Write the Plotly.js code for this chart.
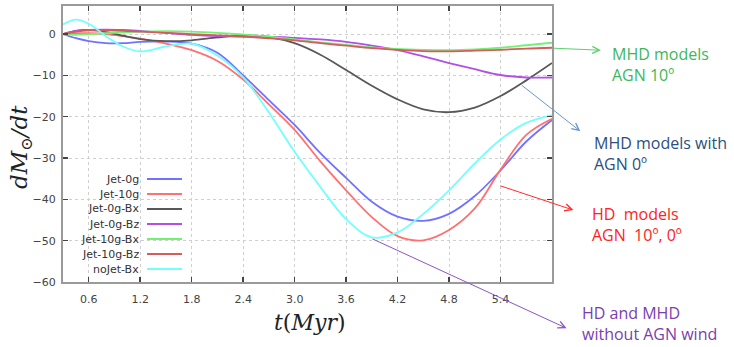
<!DOCTYPE html>
<html>
<head>
<meta charset="utf-8">
<script src="https://cdn.plot.ly/plotly-3.0.1.min.js"></script>
<style>
  html, body { margin: 0; padding: 0; background: #fff; }
  #graph { width: 734px; height: 347px; }
</style>
</head>
<body>
<div id="graph"></div>
<script>
// time in Myr
const time = [0.3, 0.45, 0.6, 0.8, 1.0, 1.2, 1.5, 1.8, 2.1, 2.4, 2.7, 3.0, 3.3, 3.6, 3.9, 4.2, 4.5, 4.8, 5.1, 5.4, 5.7, 6.0];

const jet0g    = [0, -1.0, -1.7, -2.2, -2.2, -1.9, -1.8, -2.3, -4.5, -10.0, -16.0, -22.0, -28.8, -34.8, -40.6, -44.2, -45.2, -43.5, -39.2, -33.0, -26.0, -20.8];
const jet10g   = [0, 0.2, 0.2, 0.0, -0.5, -1.1, -2.3, -3.9, -6.5, -11.0, -17.0, -23.2, -30.8, -37.8, -44.3, -48.9, -49.9, -47.4, -42.2, -32.8, -24.4, -20.5];
const jet0gBx  = [0, 0.8, 1.0, 0.5, -0.4, -1.2, -1.7, -1.5, -0.8, -0.3, -0.7, -2.2, -5.0, -8.7, -12.5, -15.8, -18.2, -18.9, -17.8, -15.0, -11.2, -7.0];
const jet0gBz  = [0, 0.8, 1.0, 1.1, 1.0, 0.8, 0.3, -0.2, -0.5, -0.6, -0.6, -0.9, -1.3, -1.9, -2.8, -3.9, -5.4, -7.0, -8.5, -9.9, -10.5, -10.5];
const jet10gBx = [0, -0.2, 0.0, 0.2, 0.4, 0.6, 0.7, 0.6, 0.3, -0.1, -0.6, -1.3, -2.0, -2.6, -3.2, -3.6, -3.8, -3.9, -3.7, -3.3, -2.7, -2.1];
const jet10gBz = [0, 0.6, 0.9, 0.9, 0.8, 0.6, 0.3, 0.0, -0.3, -0.6, -1.0, -1.5, -2.2, -2.8, -3.4, -3.8, -4.1, -4.2, -4.0, -3.8, -3.5, -3.3];
const nojetBx  = [2.3, 3.5, 2.5, -0.5, -3.0, -4.2, -3.0, -2.3, -5.2, -10.5, -19.0, -28.5, -37.0, -44.8, -49.2, -48.0, -43.5, -37.8, -31.3, -25.5, -21.5, -19.6];

const seriesNames = ['Jet-0g', 'Jet-10g', 'Jet-0g-Bx', 'Jet-0g-Bz', 'Jet-10g-Bx', 'Jet-10g-Bz', 'noJet-Bx'];
const seriesValues = [jet0g, jet10g, jet0gBx, jet0gBz, jet10gBx, jet10gBz, nojetBx];
const seriesColors = ['#7272ff', '#ff7070', '#585858', '#b050e6', '#74f074', '#d45c5c', '#72ffff'];

const xTicks = [0.6, 1.2, 1.8, 2.4, 3.0, 3.6, 4.2, 4.8, 5.4];
const xTickText = ['0.6', '1.2', '1.8', '2.4', '3.0', '3.6', '4.2', '4.8', '5.4'];
const yTicks = [0, -10, -20, -30, -40, -50, -60];

// callouts on the right
const notes = [
  { text: 'MHD models<br>AGN 10º', color: '#3cb85a', arrow: '#5fcf6f', px: 610, py: 64, tail: [6.0, -3.4], head: [6.57, -3.9] },
  { text: 'MHD models with<br>AGN 0º', color: '#2b4f80', arrow: '#6a95cc', px: 592, py: 154, tail: [5.63, -12.1], head: [6.33, -23.5] },
  { text: 'HD  models<br>AGN  10º, 0º', color: '#ff2222', arrow: '#ff3030', px: 590, py: 224, tail: [5.38, -36.6], head: [6.25, -42.6] },
  { text: 'HD and MHD<br>without AGN wind', color: '#7a3eae', arrow: '#8a55c4', px: 580, py: 323, tail: [3.89, -49.4], head: [6.17, -71.2] }
];

const plotLeft = 63, plotRight = 552, plotTop = 6, plotBottom = 282;
const px2paperX = px => (px - plotLeft) / (plotRight - plotLeft);
const px2paperY = py => (plotBottom - py) / (plotBottom - plotTop);

const traces = seriesNames.map((name, i) => ({
  x: time,
  y: seriesValues[i],
  name: name,
  type: 'scatter',
  mode: 'lines',
  line: { color: seriesColors[i], width: 1.8, shape: 'spline', smoothing: 1 },
  hoverinfo: 'skip'
}));

const annotations = [];
const shapes = [];

// legend drawn by hand: text right-aligned, sample line on the right
seriesNames.forEach((name, i) => {
  const py = 179 + i * 15;
  annotations.push({
    xref: 'paper', yref: 'paper', x: px2paperX(141), y: px2paperY(py),
    xanchor: 'right', yanchor: 'middle', showarrow: false, text: name,
    font: { family: 'DejaVu Sans', size: 11, color: '#333' }
  });
  shapes.push({
    type: 'line', xref: 'paper', yref: 'paper',
    x0: px2paperX(147), x1: px2paperX(182), y0: px2paperY(py), y1: px2paperY(py),
    line: { color: seriesColors[i], width: 1.8 }
  });
});

notes.forEach(n => {
  annotations.push({
    xref: 'paper', yref: 'paper', x: px2paperX(n.px), y: px2paperY(n.py),
    xanchor: 'left', yanchor: 'middle', align: 'left', showarrow: false,
    text: n.text, font: { family: 'Open Sans', size: 16, color: n.color }
  });
  annotations.push({
    xref: 'x', yref: 'y', axref: 'x', ayref: 'y',
    x: n.head[0], y: n.head[1], ax: n.tail[0], ay: n.tail[1],
    text: '', showarrow: true, arrowhead: 5, arrowsize: 1.4, arrowwidth: 1,
    arrowcolor: n.arrow, standoff: 0, startstandoff: 0
  });
});

annotations.push({
  xref: 'paper', yref: 'paper', x: px2paperX(21), y: px2paperY(147),
  xanchor: 'center', yanchor: 'middle', showarrow: false, textangle: -90,
  text: '<i>dM</i><sub>⊙</sub><i>/dt</i>',
  font: { family: 'DejaVu Serif', size: 23, color: '#222' }
});
annotations.push({
  xref: 'paper', yref: 'paper', x: px2paperX(310), y: px2paperY(322),
  xanchor: 'center', yanchor: 'middle', showarrow: false,
  text: '<i>t</i>(<i>Myr</i>)',
  font: { family: 'DejaVu Serif', size: 22, color: '#222' }
});

const axisCommon = {
  showline: true, mirror: 'ticks', linecolor: '#9a9a9a', linewidth: 2,
  ticks: 'inside', ticklen: 5, tickcolor: '#444', tickwidth: 1.5,
  showgrid: true, gridcolor: '#cfcfcf', griddash: 'dot', gridwidth: 1,
  zeroline: false, tickfont: { family: 'DejaVu Sans', size: 11, color: '#444' }
};

const layout = {
  width: 734, height: 347,
  margin: { l: plotLeft, r: 734 - plotRight, t: plotTop, b: 347 - plotBottom },
  paper_bgcolor: '#fff', plot_bgcolor: '#fff',
  showlegend: false,
  xaxis: Object.assign({}, axisCommon, {
    range: [0.3, 6.0], tickvals: xTicks, ticktext: xTickText, ticklabelstandoff: 6
  }),
  yaxis: Object.assign({}, axisCommon, {
    range: [-60, 6.8], tickvals: yTicks, ticklabelstandoff: 3
  }),
  annotations: annotations,
  shapes: shapes
};

Plotly.newPlot('graph', traces, layout, { staticPlot: true });
</script>
</body>
</html>
